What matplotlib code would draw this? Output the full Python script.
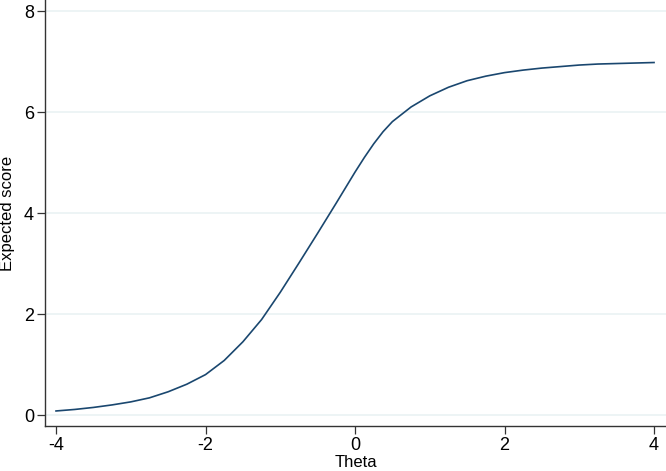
import numpy as np
import matplotlib.pyplot as plt

plt.rcParams['font.family'] = ['Liberation Sans', 'DejaVu Sans']

# valores
theta = [-4.0, -3.75, -3.5, -3.25, -3.0, -2.75, -2.5, -2.25, -2.0, -1.75, -1.5,
         -1.25, -1.0, -0.75, -0.5, -0.25, 0.0, 0.125, 0.25, 0.375, 0.5, 0.75,
         1.0, 1.25, 1.5, 1.75, 2.0, 2.25, 2.5, 2.75, 3.0, 3.25, 3.5, 3.75, 4.0]
score = [0.08, 0.11, 0.15, 0.20, 0.26, 0.34, 0.46, 0.61, 0.80, 1.08, 1.45,
         1.89, 2.43, 3.01, 3.60, 4.20, 4.81, 5.10, 5.37, 5.61, 5.81, 6.10,
         6.32, 6.49, 6.62, 6.71, 6.78, 6.83, 6.87, 6.90, 6.93, 6.95, 6.96, 6.97, 6.98]
xticks = [-4, -2, 0, 2, 4]
yticks = [0, 2, 4, 6, 8]

fig = plt.figure(figsize=(6.66, 4.71), dpi=100)
ax = fig.add_axes([0.0676, 0.0955, 0.9324, 0.9045])

ax.plot(theta, score, color='#1a476f', linewidth=1.2)

ax.set_xlim(-4.147, 4.16)
ax.set_ylim(-0.218, 8.218)
ax.set_xticks(xticks)
ax.set_yticks(yticks)
ax.set_xticklabels([str(v) for v in xticks])
ax.set_yticklabels([str(v) for v in yticks])
ax.yaxis.grid(True, color='#eaf2f3', linewidth=1.2)
ax.set_axisbelow(True)

for s in ['top', 'right']:
    ax.spines[s].set_visible(False)
for s in ['left', 'bottom']:
    ax.spines[s].set_color('#333333')
    ax.spines[s].set_linewidth(1.0)

ax.tick_params(direction='out', length=6, width=0.9, color='#333333',
               labelsize=13, pad=2)
ax.set_xlabel('Theta', fontsize=12, labelpad=0.5)
ax.set_ylabel('Expected score', fontsize=12, labelpad=6)

fig.savefig('out.png', dpi=100)
